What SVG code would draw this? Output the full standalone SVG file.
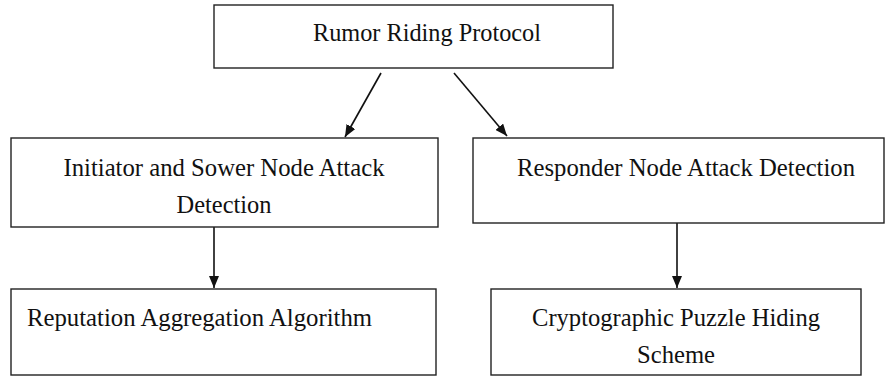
<svg xmlns="http://www.w3.org/2000/svg" width="891" height="376" viewBox="0 0 891 376">
<style>
.box{fill:#fff;stroke:#222;stroke-width:1.4}
.t{font-size:26px;fill:#111}
.c{text-anchor:middle}
.edge{stroke:#111;stroke-width:1.6;fill:none;marker-end:url(#ah)}
</style>
<defs>
<marker id="ah" viewBox="0 0 12 10" refX="12" refY="5" markerWidth="12" markerHeight="10" markerUnits="userSpaceOnUse" orient="auto">
<path d="M0,0 L12,5 L0,10 z" fill="#111"/>
</marker>
</defs>
<rect width="891" height="376" fill="#fff"/>
<g id="connectors">
<line class="edge" x1="381" y1="73" x2="345" y2="137"/>
<line class="edge" x1="454" y1="73" x2="507" y2="136"/>
<line class="edge" x1="214" y1="227" x2="214" y2="288"/>
<line class="edge" x1="677" y1="223" x2="677" y2="288"/>
</g>
<g font-family="'Liberation Serif', 'Times New Roman', 'DejaVu Serif', serif">
<g id="n1">
<rect class="box" x="214" y="5" width="399" height="63"/>
<text class="t c" x="427" y="41" textLength="228" lengthAdjust="spacingAndGlyphs">Rumor Riding Protocol</text>
</g>
<g id="n2">
<rect class="box" x="11" y="138" width="427" height="89"/>
<text class="t c" x="224" y="176" textLength="321" lengthAdjust="spacingAndGlyphs">Initiator and Sower Node Attack</text>
<text class="t c" x="224" y="213" textLength="95" lengthAdjust="spacingAndGlyphs">Detection</text>
</g>
<g id="n3">
<rect class="box" x="473" y="138" width="411" height="85"/>
<text class="t c" x="686" y="176" textLength="338" lengthAdjust="spacingAndGlyphs">Responder Node Attack Detection</text>
</g>
<g id="n4">
<rect class="box" x="11" y="289" width="425" height="86"/>
<text class="t" x="27" y="326" textLength="345" lengthAdjust="spacingAndGlyphs">Reputation Aggregation Algorithm</text>
</g>
<g id="n5">
<rect class="box" x="491" y="289" width="370" height="86"/>
<text class="t c" x="676" y="326" textLength="288" lengthAdjust="spacingAndGlyphs">Cryptographic Puzzle Hiding</text>
<text class="t c" x="676" y="363" textLength="78" lengthAdjust="spacingAndGlyphs">Scheme</text>
</g>
</g>
</svg>
